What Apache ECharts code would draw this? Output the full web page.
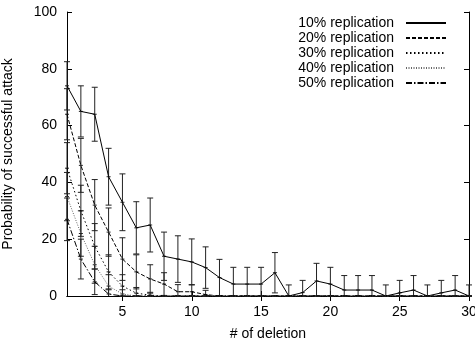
<!DOCTYPE html>
<html><head><meta charset="utf-8">
<script src="https://cdn.jsdelivr.net/npm/echarts@6/dist/echarts.min.js"></script>
<style>html,body{margin:0;padding:0;background:#fff}#c{width:475px;height:343px}</style>
</head><body><div id="c"></div>
<script>
var deletions = [1,2,3,4,5,6,7,8,9,10,11,12,13,14,15,16,17,18,19,20,21,22,23,24,25,26,27,28,29,30];
var names = ['10% replication','20% replication','30% replication','40% replication','50% replication'];
var rep10 = [74,65,64,42,33,24,25,14,13,12,10,6.5,4.2,4.2,4.2,8.2,0,1.2,5.3,4.2,2.1,2.1,2.1,0,1.1,2.1,0,1.1,2.1,0];
var err10 = [8.5,9,9.5,10,10,9.2,9.5,8.5,8.2,8.1,7.3,6.4,5.9,5.9,5.9,7.1,3.9,4.3,6.2,5.9,5.1,5.1,5.1,3.9,4.4,5.1,3.9,4.4,5.1,3.9];
var rep20 = [64,46,32,22.5,13,8.5,6,4.2,1.5,1.5,0.5,0,0,0,0,0,0,0,0,0,0,0,0,0,0,0,0,0,0,0];
var err20 = [9,9.5,9,8.5,7.5,6,5,4,2.5,2.5,1.5,0,0,0,0,0,0,0,0,0,0,0,0,0,0,0,0,0,0,0];
var rep30 = [45,30,17.5,8.5,3.5,1,0.3,0,0,0,0,0,0,0,0,0,0,0,0,0,0,0,0,0,0,0,0,0,0,0];
var err30 = [9,9,8,6,4,2,1,0,0,0,0,0,0,0,0,0,0,0,0,0,0,0,0,0,0,0,0,0,0,0];
var rep40 = [35,22,11,3.5,0.7,0,0,0,0,0,0,0,0,0,0,0,0,0,0,0,0,0,0,0,0,0,0,0,0,0];
var err40 = [8.5,8,6.5,4,1.5,0,0,0,0,0,0,0,0,0,0,0,0,0,0,0,0,0,0,0,0,0,0,0,0,0];
var rep50 = [27,13,5,0.7,0,0,0,0,0,0,0,0,0,0,0,0,0,0,0,0,0,0,0,0,0,0,0,0,0,0];
var err50 = [7.5,7,4.5,1.5,0,0,0,0,0,0,0,0,0,0,0,0,0,0,0,0,0,0,0,0,0,0,0,0,0,0];
var xTickValues = [5,10,15,20,25,30];

var allVals = [rep10,rep20,rep30,rep40,rep50];
var allErrs = [err10,err20,err30,err40,err50];
var dashes = ['solid',[4,2],[1.5,2.5],[1,1.5],[6,2,1.5,2]];
var colors = ['#000','#000','#000','#666','#000'];
var FONT = 'Liberation Sans';

function errRender(params, api){
  var x = api.value(0), v = api.value(1), lo = api.value(2), hi = api.value(3);
  var cl = Math.max(0, lo);
  var pLo = api.coord([x, cl]), pHi = api.coord([x, hi]), pV = api.coord([x, v]);
  var w = 3;
  var st = {stroke:'#222', lineWidth:1};
  var ch = [
    {type:'line', shape:{x1:pLo[0],y1:pLo[1],x2:pHi[0],y2:pHi[1]}, style:st},
    {type:'line', shape:{x1:pHi[0]-w,y1:pHi[1],x2:pHi[0]+w,y2:pHi[1]}, style:st},
    {type:'line', shape:{x1:pV[0]-2,y1:pV[1],x2:pV[0]+2,y2:pV[1]}, style:st}
  ];
  if (lo >= 0) ch.push({type:'line', shape:{x1:pLo[0]-w,y1:pLo[1],x2:pLo[0]+w,y2:pLo[1]}, style:st});
  return {type:'group', children:ch};
}

var series = [];
allVals.forEach(function(vals, s){
  var errs = allErrs[s];
  series.push({
    type:'custom', renderItem: errRender, silent:true, z:2,
    data: deletions.map(function(d,i){ return [d, vals[i], vals[i]-errs[i], vals[i]+errs[i]]; })
  });
});
allVals.forEach(function(vals, s){
  series.push({
    name: names[s], type:'line', symbol:'none', z:3, animation:false,
    lineStyle:{color:colors[s], width:1, type:dashes[s]},
    itemStyle:{color:colors[s]},
    data: deletions.map(function(d,i){ return [d, vals[i]]; })
  });
});

var axisLineStyle = {lineStyle:{color:'#000', width:1}};
var chart = echarts.init(document.getElementById('c'), null, {renderer:'canvas'});
chart.setOption({
  animation:false,
  textStyle:{fontFamily:FONT},
  grid:{left:67, right:6, top:12, bottom:47, outerBoundsMode:'none', containLabel:false},
  legend:{
    data:names, right:23, top:11, orient:'vertical', align:'right',
    itemWidth:40, itemHeight:14, itemGap:1,
    itemStyle:{opacity:0},
    textStyle:{fontFamily:FONT, fontSize:14, color:'#000', padding:[0,7,0,0]},
    inactiveColor:'#000'
  },
  xAxis:[{
    type:'value', min:1, max:30,
    name:'# of deletion', nameLocation:'middle', nameGap:31,
    nameTextStyle:{fontFamily:FONT, fontSize:14, color:'#000'},
    axisLine:axisLineStyle, splitLine:{show:false},
    axisTick:{inside:true, length:5, customValues:xTickValues, lineStyle:{color:'#000'}},
    axisLabel:{customValues:xTickValues, fontFamily:FONT, fontSize:14, color:'#000', margin:9}
  },{
    type:'value', min:1, max:30, position:'top',
    axisLine:axisLineStyle, splitLine:{show:false},
    axisTick:{inside:true, length:5, customValues:xTickValues, lineStyle:{color:'#000'}},
    axisLabel:{show:false}
  }],
  yAxis:[{
    type:'value', min:0, max:100, interval:20,
    name:'Probability of successful attack', nameLocation:'middle', nameGap:52,
    nameTextStyle:{fontFamily:FONT, fontSize:14, color:'#000'},
    axisLine:{show:true, lineStyle:{color:'#000', width:1}}, splitLine:{show:false},
    axisTick:{show:true, inside:true, length:5, lineStyle:{color:'#000'}},
    axisLabel:{fontFamily:FONT, fontSize:14, color:'#000', margin:10}
  },{
    type:'value', min:0, max:100, interval:20, position:'right',
    axisLine:{show:true, lineStyle:{color:'#000', width:1}}, splitLine:{show:false},
    axisTick:{show:true, inside:true, length:5, lineStyle:{color:'#000'}},
    axisLabel:{show:false}
  }],
  series: series
});
</script></body></html>
